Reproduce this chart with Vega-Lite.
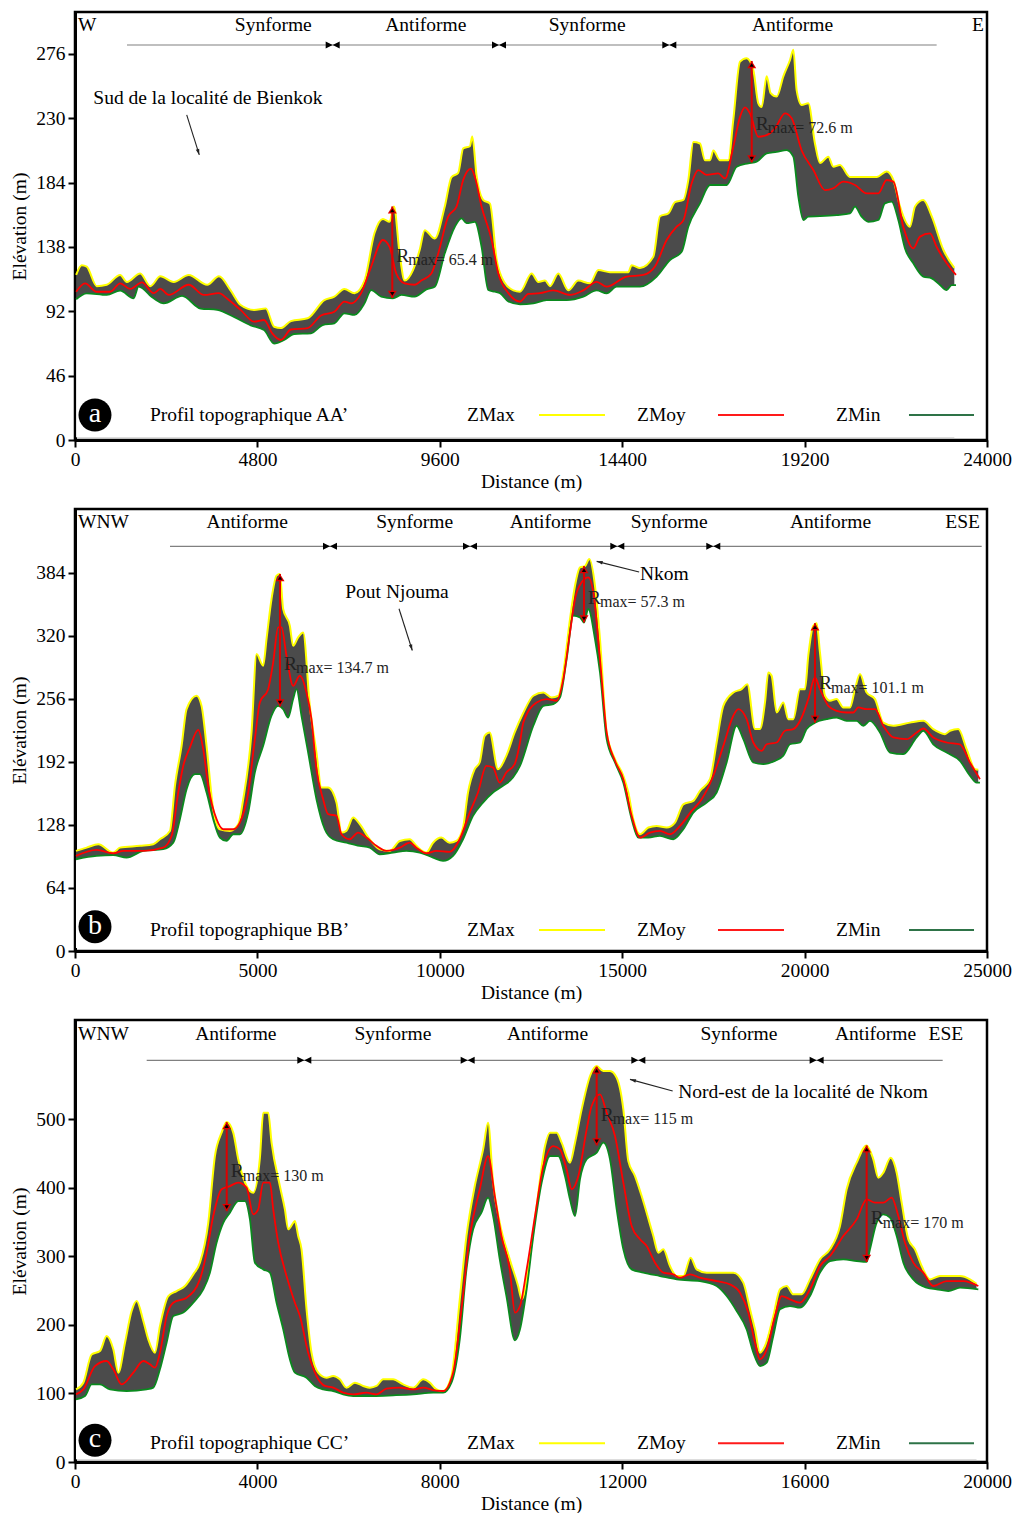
{
  "$schema": "https://vega.github.io/schema/vega-lite/v6.json",
  "background": "white",
  "padding": {"left": 8, "top": 10, "right": 5, "bottom": 0},
  "spacing": 14,
  "datasets": {
    "prof_a": [
      {"s":"max","d":30,"z":118},{"s":"max","d":176,"z":125},{"s":"max","d":308,"z":124},{"s":"max","d":572,"z":110},{"s":"max","d":837,"z":111},{"s":"max","d":1189,"z":118},{"s":"max","d":1365,"z":113},{"s":"max","d":1717,"z":119},{"s":"max","d":1982,"z":110},{"s":"max","d":2246,"z":117},{"s":"max","d":2598,"z":113},{"s":"max","d":2994,"z":118},{"s":"max","d":3479,"z":111},{"s":"max","d":3787,"z":117},{"s":"max","d":4095,"z":107},{"s":"max","d":4359,"z":96.5},{"s":"max","d":4712,"z":93},{"s":"max","d":5020,"z":94},{"s":"max","d":5240,"z":81},{"s":"max","d":5416,"z":80},{"s":"max","d":5681,"z":85},{"s":"max","d":6121,"z":87},{"s":"max","d":6561,"z":100},{"s":"max","d":6825,"z":102.5},{"s":"max","d":7089,"z":108},{"s":"max","d":7354,"z":105},{"s":"max","d":7618,"z":114},{"s":"max","d":7882,"z":148},{"s":"max","d":8102,"z":158},{"s":"max","d":8278,"z":156},{"s":"max","d":8393,"z":167},{"s":"max","d":8543,"z":133},{"s":"max","d":8675,"z":114},{"s":"max","d":8895,"z":121.5},{"s":"max","d":9071,"z":136},{"s":"max","d":9203,"z":150},{"s":"max","d":9467,"z":144},{"s":"max","d":9731,"z":167},{"s":"max","d":9908,"z":188},{"s":"max","d":10084,"z":191},{"s":"max","d":10216,"z":208.5},{"s":"max","d":10392,"z":210},{"s":"max","d":10454,"z":217},{"s":"max","d":10568,"z":189},{"s":"max","d":10744,"z":171.6},{"s":"max","d":10920,"z":169},{"s":"max","d":11096,"z":129},{"s":"max","d":11316,"z":112},{"s":"max","d":11535,"z":107},{"s":"max","d":11710,"z":106},{"s":"max","d":12017,"z":119},{"s":"max","d":12193,"z":113},{"s":"max","d":12368,"z":114},{"s":"max","d":12500,"z":110},{"s":"max","d":12719,"z":119},{"s":"max","d":12982,"z":107},{"s":"max","d":13245,"z":114},{"s":"max","d":13552,"z":112},{"s":"max","d":13771,"z":121.5},{"s":"max","d":14079,"z":120},{"s":"max","d":14561,"z":120},{"s":"max","d":14649,"z":125},{"s":"max","d":14868,"z":123},{"s":"max","d":15219,"z":131},{"s":"max","d":15395,"z":160},{"s":"max","d":15614,"z":162},{"s":"max","d":15789,"z":170},{"s":"max","d":16009,"z":171.6},{"s":"max","d":16140,"z":186},{"s":"max","d":16272,"z":213},{"s":"max","d":16447,"z":212},{"s":"max","d":16579,"z":200},{"s":"max","d":16710,"z":200},{"s":"max","d":16798,"z":207},{"s":"max","d":16973,"z":200},{"s":"max","d":17193,"z":200},{"s":"max","d":17324,"z":229},{"s":"max","d":17500,"z":270.5},{"s":"max","d":17675,"z":273},{"s":"max","d":17851,"z":264.5},{"s":"max","d":17982,"z":240.7},{"s":"max","d":18070,"z":238},{"s":"max","d":18202,"z":260},{"s":"max","d":18307,"z":248},{"s":"max","d":18465,"z":245.5},{"s":"max","d":18640,"z":260},{"s":"max","d":18816,"z":271.7},{"s":"max","d":18903,"z":279},{"s":"max","d":18991,"z":250},{"s":"max","d":19123,"z":239.5},{"s":"max","d":19298,"z":240.7},{"s":"max","d":19473,"z":212},{"s":"max","d":19605,"z":198},{"s":"max","d":19824,"z":202.6},{"s":"max","d":19956,"z":195.4},{"s":"max","d":20131,"z":196.6},{"s":"max","d":20394,"z":188},{"s":"max","d":20745,"z":188},{"s":"max","d":21096,"z":188},{"s":"max","d":21359,"z":192},{"s":"max","d":21535,"z":186},{"s":"max","d":21710,"z":167},{"s":"max","d":21973,"z":152.5},{"s":"max","d":22105,"z":167},{"s":"max","d":22324,"z":171.6},{"s":"max","d":22544,"z":160},{"s":"max","d":22851,"z":136},{"s":"max","d":23140,"z":123},
      {"s":"moy","d":30,"z":106},{"s":"moy","d":264,"z":112},{"s":"moy","d":572,"z":106},{"s":"moy","d":925,"z":106},{"s":"moy","d":1189,"z":112},{"s":"moy","d":1453,"z":108},{"s":"moy","d":1761,"z":112.7},{"s":"moy","d":2070,"z":105},{"s":"moy","d":2246,"z":108},{"s":"moy","d":2466,"z":103.7},{"s":"moy","d":2994,"z":111},{"s":"moy","d":3391,"z":103.7},{"s":"moy","d":3787,"z":105},{"s":"moy","d":4007,"z":101},{"s":"moy","d":4359,"z":93},{"s":"moy","d":4712,"z":84.6},{"s":"moy","d":4976,"z":85.8},{"s":"moy","d":5196,"z":76},{"s":"moy","d":5416,"z":71.5},{"s":"moy","d":5681,"z":79},{"s":"moy","d":6121,"z":80},{"s":"moy","d":6473,"z":89},{"s":"moy","d":6825,"z":91.7},{"s":"moy","d":7089,"z":99},{"s":"moy","d":7266,"z":97.7},{"s":"moy","d":7530,"z":105},{"s":"moy","d":7794,"z":124},{"s":"moy","d":8102,"z":143},{"s":"moy","d":8278,"z":138},{"s":"moy","d":8455,"z":119},{"s":"moy","d":8675,"z":112},{"s":"moy","d":8939,"z":111},{"s":"moy","d":9115,"z":114},{"s":"moy","d":9379,"z":119},{"s":"moy","d":9555,"z":133},{"s":"moy","d":9820,"z":159.7},{"s":"moy","d":10040,"z":166.8},{"s":"moy","d":10216,"z":186},{"s":"moy","d":10419,"z":194},{"s":"moy","d":10524,"z":188},{"s":"moy","d":10700,"z":166.8},{"s":"moy","d":10964,"z":143},{"s":"moy","d":11140,"z":119},{"s":"moy","d":11404,"z":105},{"s":"moy","d":11710,"z":99},{"s":"moy","d":11930,"z":104.4},{"s":"moy","d":12237,"z":105},{"s":"moy","d":12588,"z":107},{"s":"moy","d":13026,"z":103.7},{"s":"moy","d":13377,"z":107},{"s":"moy","d":13728,"z":113},{"s":"moy","d":13991,"z":109.6},{"s":"moy","d":14517,"z":116.8},{"s":"moy","d":14956,"z":118},{"s":"moy","d":15263,"z":124},{"s":"moy","d":15570,"z":143},{"s":"moy","d":15833,"z":152.5},{"s":"moy","d":16009,"z":157},{"s":"moy","d":16228,"z":183.5},{"s":"moy","d":16403,"z":193},{"s":"moy","d":16623,"z":189.5},{"s":"moy","d":16930,"z":190.6},{"s":"moy","d":17105,"z":187},{"s":"moy","d":17324,"z":209.7},{"s":"moy","d":17500,"z":231},{"s":"moy","d":17631,"z":237.8},{"s":"moy","d":17763,"z":233.5},{"s":"moy","d":17982,"z":216.8},{"s":"moy","d":18202,"z":218},{"s":"moy","d":18421,"z":222.8},{"s":"moy","d":18684,"z":233.5},{"s":"moy","d":18859,"z":230},{"s":"moy","d":19123,"z":207},{"s":"moy","d":19430,"z":193},{"s":"moy","d":19737,"z":178.7},{"s":"moy","d":19956,"z":180},{"s":"moy","d":20219,"z":184.7},{"s":"moy","d":20526,"z":182.3},{"s":"moy","d":20833,"z":176.3},{"s":"moy","d":21140,"z":176.3},{"s":"moy","d":21359,"z":185.9},{"s":"moy","d":21535,"z":184.7},{"s":"moy","d":21798,"z":152.5},{"s":"moy","d":22061,"z":137},{"s":"moy","d":22237,"z":145.4},{"s":"moy","d":22500,"z":147.7},{"s":"moy","d":22676,"z":138},{"s":"moy","d":22939,"z":126.3},{"s":"moy","d":23184,"z":118},
      {"s":"min","d":30,"z":100.6},{"s":"min","d":308,"z":104.9},{"s":"min","d":837,"z":103.7},{"s":"min","d":1189,"z":106.8},{"s":"min","d":1541,"z":101.3},{"s":"min","d":1673,"z":109.6},{"s":"min","d":2070,"z":101.3},{"s":"min","d":2334,"z":97.7},{"s":"min","d":2818,"z":103},{"s":"min","d":3303,"z":94},{"s":"min","d":3743,"z":93},{"s":"min","d":4183,"z":88},{"s":"min","d":4624,"z":82},{"s":"min","d":4976,"z":78.6},{"s":"min","d":5240,"z":69},{"s":"min","d":5504,"z":71.5},{"s":"min","d":5769,"z":75.8},{"s":"min","d":6209,"z":76.3},{"s":"min","d":6517,"z":82.2},{"s":"min","d":6825,"z":83.4},{"s":"min","d":7089,"z":90.6},{"s":"min","d":7354,"z":89.4},{"s":"min","d":7618,"z":97.7},{"s":"min","d":7794,"z":107.2},{"s":"min","d":8058,"z":102.5},{"s":"min","d":8367,"z":101.3},{"s":"min","d":8587,"z":103.7},{"s":"min","d":8939,"z":102.5},{"s":"min","d":9247,"z":107.7},{"s":"min","d":9467,"z":109.6},{"s":"min","d":9731,"z":133.5},{"s":"min","d":9996,"z":152.5},{"s":"min","d":10172,"z":158.5},{"s":"min","d":10304,"z":155},{"s":"min","d":10524,"z":156},{"s":"min","d":10700,"z":138},{"s":"min","d":10876,"z":107.2},{"s":"min","d":11052,"z":106},{"s":"min","d":11184,"z":105},{"s":"min","d":11404,"z":99},{"s":"min","d":11712,"z":97},{"s":"min","d":12061,"z":97.7},{"s":"min","d":12412,"z":100},{"s":"min","d":12938,"z":100},{"s":"min","d":13377,"z":102.5},{"s":"min","d":13728,"z":107},{"s":"min","d":13991,"z":104.9},{"s":"min","d":14254,"z":109.6},{"s":"min","d":14868,"z":109.6},{"s":"min","d":15307,"z":116.8},{"s":"min","d":15658,"z":128.7},{"s":"min","d":15965,"z":134.6},{"s":"min","d":16140,"z":152.5},{"s":"min","d":16447,"z":169.2},{"s":"min","d":16710,"z":182.3},{"s":"min","d":17149,"z":182.3},{"s":"min","d":17412,"z":195.4},{"s":"min","d":17719,"z":197.8},{"s":"min","d":17938,"z":199},{"s":"min","d":18202,"z":205},{"s":"min","d":18465,"z":206},{"s":"min","d":18728,"z":207.3},{"s":"min","d":18903,"z":202.6},{"s":"min","d":19035,"z":174},{"s":"min","d":19167,"z":157.3},{"s":"min","d":19298,"z":159.7},{"s":"min","d":19605,"z":160},{"s":"min","d":20043,"z":160.8},{"s":"min","d":20394,"z":162},{"s":"min","d":20526,"z":166.8},{"s":"min","d":20701,"z":159.7},{"s":"min","d":20877,"z":156},{"s":"min","d":21140,"z":157.3},{"s":"min","d":21315,"z":169.2},{"s":"min","d":21491,"z":170.4},{"s":"min","d":21666,"z":157.3},{"s":"min","d":21842,"z":137},{"s":"min","d":22061,"z":126.3},{"s":"min","d":22324,"z":116.8},{"s":"min","d":22544,"z":115.6},{"s":"min","d":22763,"z":110.8},{"s":"min","d":22939,"z":107.2},{"s":"min","d":23070,"z":110.8},{"s":"min","d":23184,"z":110.8}
    ],
    "prof_b": [
      {"s":"max","d":27,"z":101.7},{"s":"max","d":320,"z":105},{"s":"max","d":639,"z":108.4},{"s":"max","d":1050,"z":100},{"s":"max","d":1233,"z":105},{"s":"max","d":1780,"z":106.8},{"s":"max","d":2146,"z":108.4},{"s":"max","d":2328,"z":113.5},{"s":"max","d":2602,"z":122},{"s":"max","d":2739,"z":167.8},{"s":"max","d":2922,"z":208.4},{"s":"max","d":3059,"z":245.7},{"s":"max","d":3332,"z":259.3},{"s":"max","d":3469,"z":249},{"s":"max","d":3606,"z":208.4},{"s":"max","d":3789,"z":144},{"s":"max","d":3971,"z":123.7},{"s":"max","d":4245,"z":122},{"s":"max","d":4474,"z":128.8},{"s":"max","d":4611,"z":154.2},{"s":"max","d":4839,"z":222},{"s":"max","d":4976,"z":301.6},{"s":"max","d":5158,"z":289.8},{"s":"max","d":5250,"z":316.9},{"s":"max","d":5387,"z":357.5},{"s":"max","d":5524,"z":381.3},{"s":"max","d":5615,"z":383},{"s":"max","d":5706,"z":347.4},{"s":"max","d":5889,"z":330.4},{"s":"max","d":5980,"z":310},{"s":"max","d":6117,"z":318.6},{"s":"max","d":6254,"z":323.6},{"s":"max","d":6437,"z":249},{"s":"max","d":6619,"z":201.6},{"s":"max","d":6756,"z":166},{"s":"max","d":6939,"z":166},{"s":"max","d":7167,"z":150.8},{"s":"max","d":7304,"z":120.3},{"s":"max","d":7441,"z":122},{"s":"max","d":7624,"z":135.6},{"s":"max","d":7806,"z":128.8},{"s":"max","d":8080,"z":113.5},{"s":"max","d":8354,"z":103.4},{"s":"max","d":8628,"z":101.7},{"s":"max","d":8902,"z":111.8},{"s":"max","d":9176,"z":113.5},{"s":"max","d":9358,"z":106.8},{"s":"max","d":9632,"z":100},{"s":"max","d":9815,"z":110},{"s":"max","d":10043,"z":115.2},{"s":"max","d":10271,"z":110},{"s":"max","d":10454,"z":111.8},{"s":"max","d":10637,"z":125.4},{"s":"max","d":10773,"z":161},{"s":"max","d":10956,"z":184.7},{"s":"max","d":11093,"z":191.5},{"s":"max","d":11230,"z":218.6},{"s":"max","d":11367,"z":222},{"s":"max","d":11595,"z":184.7},{"s":"max","d":11823,"z":198.3},{"s":"max","d":12052,"z":222},{"s":"max","d":12290,"z":242},{"s":"max","d":12564,"z":259.3},{"s":"max","d":12838,"z":262.6},{"s":"max","d":13066,"z":257.6},{"s":"max","d":13249,"z":259.3},{"s":"max","d":13386,"z":283},{"s":"max","d":13569,"z":337.2},{"s":"max","d":13706,"z":371},{"s":"max","d":13843,"z":389.7},{"s":"max","d":13980,"z":391},{"s":"max","d":14099,"z":398.2},{"s":"max","d":14254,"z":371},{"s":"max","d":14391,"z":316.9},{"s":"max","d":14574,"z":222},{"s":"max","d":14802,"z":194.9},{"s":"max","d":15031,"z":178},{"s":"max","d":15168,"z":161},{"s":"max","d":15305,"z":133.9},{"s":"max","d":15488,"z":118.6},{"s":"max","d":15716,"z":125.4},{"s":"max","d":15945,"z":127},{"s":"max","d":16219,"z":125.4},{"s":"max","d":16447,"z":130.5},{"s":"max","d":16675,"z":149},{"s":"max","d":16950,"z":152.5},{"s":"max","d":17132,"z":162.7},{"s":"max","d":17406,"z":174.5},{"s":"max","d":17589,"z":211.8},{"s":"max","d":17772,"z":249},{"s":"max","d":18046,"z":262.6},{"s":"max","d":18274,"z":266},{"s":"max","d":18430,"z":271},{"s":"max","d":18640,"z":225.4},{"s":"max","d":18777,"z":225.4},{"s":"max","d":18914,"z":252.5},{"s":"max","d":19005,"z":283},{"s":"max","d":19097,"z":279.6},{"s":"max","d":19234,"z":242.3},{"s":"max","d":19417,"z":252.5},{"s":"max","d":19553,"z":235.5},{"s":"max","d":19690,"z":235.5},{"s":"max","d":19873,"z":266},{"s":"max","d":20010,"z":266},{"s":"max","d":20101,"z":300},{"s":"max","d":20238,"z":330.4},{"s":"max","d":20330,"z":333},{"s":"max","d":20421,"z":303.3},{"s":"max","d":20558,"z":259.3},{"s":"max","d":20695,"z":254.2},{"s":"max","d":20878,"z":255.9},{"s":"max","d":21061,"z":247.4},{"s":"max","d":21244,"z":247.4},{"s":"max","d":21381,"z":266},{"s":"max","d":21518,"z":281.3},{"s":"max","d":21700,"z":262.6},{"s":"max","d":21929,"z":255.9},{"s":"max","d":22157,"z":232},{"s":"max","d":22432,"z":228.8},{"s":"max","d":22888,"z":232},{"s":"max","d":23254,"z":233.8},{"s":"max","d":23528,"z":225.4},{"s":"max","d":23848,"z":220.3},{"s":"max","d":23985,"z":223.7},{"s":"max","d":24213,"z":225.4},{"s":"max","d":24442,"z":205},{"s":"max","d":24670,"z":184.7},{"s":"max","d":24760,"z":184},
      {"s":"moy","d":27,"z":96.6},{"s":"moy","d":593,"z":102.7},{"s":"moy","d":1050,"z":99.3},{"s":"moy","d":1324,"z":101.7},{"s":"moy","d":1872,"z":101.7},{"s":"moy","d":2419,"z":105},{"s":"moy","d":2648,"z":117},{"s":"moy","d":2830,"z":161},{"s":"moy","d":2967,"z":188},{"s":"moy","d":3150,"z":206.7},{"s":"moy","d":3378,"z":224.7},{"s":"moy","d":3515,"z":205},{"s":"moy","d":3652,"z":167.8},{"s":"moy","d":3880,"z":133.9},{"s":"moy","d":4063,"z":123.7},{"s":"moy","d":4337,"z":123.7},{"s":"moy","d":4519,"z":130.5},{"s":"moy","d":4748,"z":161},{"s":"moy","d":4930,"z":215.2},{"s":"moy","d":5067,"z":252.5},{"s":"moy","d":5295,"z":266},{"s":"moy","d":5432,"z":293},{"s":"moy","d":5569,"z":328.7},{"s":"moy","d":5661,"z":328.7},{"s":"moy","d":5798,"z":300},{"s":"moy","d":5980,"z":269.4},{"s":"moy","d":6163,"z":279.6},{"s":"moy","d":6345,"z":262.6},{"s":"moy","d":6482,"z":235.5},{"s":"moy","d":6619,"z":184.7},{"s":"moy","d":6802,"z":154.2},{"s":"moy","d":6939,"z":139},{"s":"moy","d":7167,"z":137.3},{"s":"moy","d":7304,"z":118.6},{"s":"moy","d":7532,"z":113.5},{"s":"moy","d":7760,"z":120.3},{"s":"moy","d":7989,"z":115.2},{"s":"moy","d":8263,"z":106.8},{"s":"moy","d":8537,"z":101.7},{"s":"moy","d":8902,"z":105},{"s":"moy","d":9176,"z":110},{"s":"moy","d":9358,"z":105},{"s":"moy","d":9632,"z":99.3},{"s":"moy","d":9906,"z":101.7},{"s":"moy","d":10271,"z":100.7},{"s":"moy","d":10545,"z":113.5},{"s":"moy","d":10819,"z":140.6},{"s":"moy","d":11047,"z":161},{"s":"moy","d":11275,"z":188},{"s":"moy","d":11458,"z":186.4},{"s":"moy","d":11640,"z":171},{"s":"moy","d":11823,"z":181.3},{"s":"moy","d":12052,"z":189.8},{"s":"moy","d":12189,"z":210},{"s":"moy","d":12290,"z":232},{"s":"moy","d":12655,"z":252.5},{"s":"moy","d":12929,"z":255.9},{"s":"moy","d":13203,"z":254.2},{"s":"moy","d":13386,"z":276.2},{"s":"moy","d":13569,"z":323.6},{"s":"moy","d":13706,"z":357.5},{"s":"moy","d":13889,"z":374.5},{"s":"moy","d":14071,"z":379.6},{"s":"moy","d":14208,"z":364.3},{"s":"moy","d":14391,"z":296.5},{"s":"moy","d":14574,"z":222},{"s":"moy","d":14802,"z":193.2},{"s":"moy","d":15031,"z":174.5},{"s":"moy","d":15259,"z":137.3},{"s":"moy","d":15488,"z":115.2},{"s":"moy","d":15762,"z":120.3},{"s":"moy","d":16036,"z":122},{"s":"moy","d":16310,"z":118.6},{"s":"moy","d":16584,"z":127},{"s":"moy","d":16904,"z":142.3},{"s":"moy","d":17178,"z":154.2},{"s":"moy","d":17498,"z":178},{"s":"moy","d":17772,"z":208.4},{"s":"moy","d":18046,"z":239},{"s":"moy","d":18183,"z":245.7},{"s":"moy","d":18411,"z":235.5},{"s":"moy","d":18594,"z":211.8},{"s":"moy","d":18823,"z":203.3},{"s":"moy","d":18960,"z":210},{"s":"moy","d":19234,"z":211.8},{"s":"moy","d":19462,"z":223.7},{"s":"moy","d":19690,"z":225.4},{"s":"moy","d":19919,"z":237.2},{"s":"moy","d":20101,"z":255.9},{"s":"moy","d":20284,"z":277.9},{"s":"moy","d":20421,"z":266},{"s":"moy","d":20650,"z":249},{"s":"moy","d":20878,"z":244},{"s":"moy","d":21152,"z":242.3},{"s":"moy","d":21335,"z":242.3},{"s":"moy","d":21472,"z":247.4},{"s":"moy","d":21700,"z":245.7},{"s":"moy","d":21929,"z":245.7},{"s":"moy","d":22157,"z":228.8},{"s":"moy","d":22432,"z":216.9},{"s":"moy","d":22797,"z":215.2},{"s":"moy","d":23071,"z":222},{"s":"moy","d":23254,"z":226},{"s":"moy","d":23528,"z":216.9},{"s":"moy","d":23893,"z":211.8},{"s":"moy","d":24258,"z":210},{"s":"moy","d":24533,"z":191.5},{"s":"moy","d":24807,"z":174.5},
      {"s":"min","d":27,"z":93.2},{"s":"min","d":593,"z":96.6},{"s":"min","d":1050,"z":97.3},{"s":"min","d":1415,"z":94.9},{"s":"min","d":1872,"z":101.7},{"s":"min","d":2419,"z":103.4},{"s":"min","d":2693,"z":110},{"s":"min","d":2876,"z":133.9},{"s":"min","d":3059,"z":164.4},{"s":"min","d":3287,"z":179.6},{"s":"min","d":3424,"z":179.6},{"s":"min","d":3606,"z":161},{"s":"min","d":3789,"z":133.9},{"s":"min","d":3971,"z":115.2},{"s":"min","d":4154,"z":111.8},{"s":"min","d":4337,"z":118.6},{"s":"min","d":4519,"z":118.6},{"s":"min","d":4748,"z":140.6},{"s":"min","d":4930,"z":181.3},{"s":"min","d":5158,"z":208.4},{"s":"min","d":5387,"z":239},{"s":"min","d":5569,"z":249},{"s":"min","d":5706,"z":245.7},{"s":"min","d":5843,"z":237.2},{"s":"min","d":5980,"z":255.9},{"s":"min","d":6072,"z":266},{"s":"min","d":6208,"z":239},{"s":"min","d":6391,"z":201.6},{"s":"min","d":6619,"z":154.2},{"s":"min","d":6847,"z":123.7},{"s":"min","d":7076,"z":113.5},{"s":"min","d":7441,"z":110},{"s":"min","d":7806,"z":106.8},{"s":"min","d":8080,"z":105},{"s":"min","d":8354,"z":98.3},{"s":"min","d":8719,"z":100},{"s":"min","d":9084,"z":101.7},{"s":"min","d":9449,"z":100},{"s":"min","d":9815,"z":94.9},{"s":"min","d":10089,"z":91.5},{"s":"min","d":10363,"z":96.6},{"s":"min","d":10637,"z":113.5},{"s":"min","d":10910,"z":137.3},{"s":"min","d":11184,"z":150.8},{"s":"min","d":11458,"z":161},{"s":"min","d":11732,"z":167.8},{"s":"min","d":12006,"z":176.2},{"s":"min","d":12198,"z":188},{"s":"min","d":12564,"z":228.8},{"s":"min","d":12838,"z":249},{"s":"min","d":13112,"z":250.8},{"s":"min","d":13295,"z":257.6},{"s":"min","d":13477,"z":296.5},{"s":"min","d":13660,"z":340.6},{"s":"min","d":13843,"z":338.9},{"s":"min","d":13953,"z":333.7},{"s":"min","d":14071,"z":347.4},{"s":"min","d":14254,"z":316.9},{"s":"min","d":14391,"z":283},{"s":"min","d":14574,"z":215.2},{"s":"min","d":14802,"z":191.5},{"s":"min","d":15031,"z":171},{"s":"min","d":15259,"z":133.9},{"s":"min","d":15442,"z":115.2},{"s":"min","d":15716,"z":115.2},{"s":"min","d":16036,"z":117},{"s":"min","d":16401,"z":113.5},{"s":"min","d":16675,"z":123.7},{"s":"min","d":16950,"z":140.6},{"s":"min","d":17315,"z":150.8},{"s":"min","d":17589,"z":161},{"s":"min","d":17863,"z":191.5},{"s":"min","d":18137,"z":228.8},{"s":"min","d":18320,"z":215.2},{"s":"min","d":18594,"z":191.5},{"s":"min","d":18868,"z":189.8},{"s":"min","d":19188,"z":193.2},{"s":"min","d":19417,"z":198.3},{"s":"min","d":19599,"z":210},{"s":"min","d":19873,"z":211.8},{"s":"min","d":20056,"z":225.4},{"s":"min","d":20284,"z":231.9},{"s":"min","d":20604,"z":235.5},{"s":"min","d":20878,"z":237.2},{"s":"min","d":21152,"z":233.8},{"s":"min","d":21426,"z":233.8},{"s":"min","d":21609,"z":228.8},{"s":"min","d":21792,"z":233.8},{"s":"min","d":22066,"z":222},{"s":"min","d":22340,"z":201.6},{"s":"min","d":22706,"z":200},{"s":"min","d":23071,"z":216.9},{"s":"min","d":23254,"z":223.7},{"s":"min","d":23528,"z":210},{"s":"min","d":23893,"z":201.6},{"s":"min","d":24258,"z":193.2},{"s":"min","d":24533,"z":178},{"s":"min","d":24716,"z":171},{"s":"min","d":24807,"z":171}
    ],
    "prof_c": [
      {"s":"max","d":22,"z":106},{"s":"max","d":183,"z":115.8},{"s":"max","d":365,"z":157},{"s":"max","d":548,"z":162},{"s":"max","d":694,"z":183.9},{"s":"max","d":840,"z":164.4},{"s":"max","d":950,"z":130.4},{"s":"max","d":1096,"z":174},{"s":"max","d":1242,"z":220.3},{"s":"max","d":1352,"z":235},{"s":"max","d":1498,"z":205.7},{"s":"max","d":1607,"z":179},{"s":"max","d":1753,"z":159.5},{"s":"max","d":1863,"z":198.5},{"s":"max","d":2046,"z":242.2},{"s":"max","d":2228,"z":249.5},{"s":"max","d":2411,"z":256.8},{"s":"max","d":2594,"z":273.8},{"s":"max","d":2740,"z":290.9},{"s":"max","d":2922,"z":349},{"s":"max","d":3068,"z":446.5},{"s":"max","d":3215,"z":480.6},{"s":"max","d":3327,"z":496},{"s":"max","d":3470,"z":480.6},{"s":"max","d":3580,"z":441.7},{"s":"max","d":3763,"z":402.7},{"s":"max","d":3909,"z":393},{"s":"max","d":4055,"z":444},{"s":"max","d":4128,"z":509.7},{"s":"max","d":4237,"z":509.7},{"s":"max","d":4311,"z":466},{"s":"max","d":4493,"z":402.7},{"s":"max","d":4603,"z":368.7},{"s":"max","d":4676,"z":339.5},{"s":"max","d":4785,"z":349},{"s":"max","d":4822,"z":351.7},{"s":"max","d":4895,"z":329.8},{"s":"max","d":4968,"z":310.3},{"s":"max","d":5078,"z":222.8},{"s":"max","d":5187,"z":159.5},{"s":"max","d":5333,"z":130.4},{"s":"max","d":5516,"z":123},{"s":"max","d":5662,"z":125.5},{"s":"max","d":5808,"z":120.6},{"s":"max","d":5954,"z":108.5},{"s":"max","d":6137,"z":115.8},{"s":"max","d":6320,"z":111},{"s":"max","d":6466,"z":108.5},{"s":"max","d":6612,"z":111},{"s":"max","d":6758,"z":120.6},{"s":"max","d":6977,"z":120.6},{"s":"max","d":7196,"z":113.3},{"s":"max","d":7416,"z":108.5},{"s":"max","d":7635,"z":120.6},{"s":"max","d":7781,"z":115.8},{"s":"max","d":7927,"z":106},{"s":"max","d":8073,"z":103.6},{"s":"max","d":8256,"z":125.5},{"s":"max","d":8438,"z":237.4},{"s":"max","d":8585,"z":329.8},{"s":"max","d":8767,"z":402.7},{"s":"max","d":8950,"z":456.2},{"s":"max","d":9059,"z":495},{"s":"max","d":9169,"z":407.6},{"s":"max","d":9315,"z":349},{"s":"max","d":9534,"z":295.7},{"s":"max","d":9717,"z":256.8},{"s":"max","d":9795,"z":237.4},{"s":"max","d":9978,"z":300.6},{"s":"max","d":10124,"z":373.6},{"s":"max","d":10307,"z":461},{"s":"max","d":10417,"z":480.6},{"s":"max","d":10563,"z":480.6},{"s":"max","d":10672,"z":466},{"s":"max","d":10855,"z":436.8},{"s":"max","d":10965,"z":466},{"s":"max","d":11111,"z":514.6},{"s":"max","d":11294,"z":563.3},{"s":"max","d":11440,"z":577.8},{"s":"max","d":11586,"z":570.5},{"s":"max","d":11732,"z":570.5},{"s":"max","d":11879,"z":560.8},{"s":"max","d":12025,"z":514.6},{"s":"max","d":12134,"z":439.2},{"s":"max","d":12281,"z":417.3},{"s":"max","d":12427,"z":388.1},{"s":"max","d":12536,"z":363.8},{"s":"max","d":12683,"z":329.8},{"s":"max","d":12792,"z":305.5},{"s":"max","d":12902,"z":310.3},{"s":"max","d":13048,"z":286},{"s":"max","d":13194,"z":271.4},{"s":"max","d":13341,"z":271.4},{"s":"max","d":13501,"z":298.2},{"s":"max","d":13633,"z":281.1},{"s":"max","d":13852,"z":276.3},{"s":"max","d":14145,"z":276.3},{"s":"max","d":14437,"z":276.3},{"s":"max","d":14656,"z":261.7},{"s":"max","d":14803,"z":222.8},{"s":"max","d":14912,"z":193.6},{"s":"max","d":15022,"z":159.5},{"s":"max","d":15131,"z":169.3},{"s":"max","d":15314,"z":213},{"s":"max","d":15460,"z":252},{"s":"max","d":15607,"z":256.8},{"s":"max","d":15753,"z":244.7},{"s":"max","d":15936,"z":244.7},{"s":"max","d":16118,"z":266.5},{"s":"max","d":16338,"z":295.7},{"s":"max","d":16557,"z":310.3},{"s":"max","d":16776,"z":344.4},{"s":"max","d":16922,"z":397.9},{"s":"max","d":17142,"z":436.8},{"s":"max","d":17361,"z":462},{"s":"max","d":17507,"z":441.7},{"s":"max","d":17617,"z":414.9},{"s":"max","d":17727,"z":422.2},{"s":"max","d":17887,"z":444},{"s":"max","d":18019,"z":422.2},{"s":"max","d":18129,"z":378.4},{"s":"max","d":18275,"z":324.9},{"s":"max","d":18421,"z":310.3},{"s":"max","d":18567,"z":286},{"s":"max","d":18750,"z":266.5},{"s":"max","d":18969,"z":271.4},{"s":"max","d":19189,"z":271.4},{"s":"max","d":19408,"z":271.4},{"s":"max","d":19627,"z":266.5},{"s":"max","d":19770,"z":260},
      {"s":"moy","d":22,"z":98.7},{"s":"moy","d":183,"z":106},{"s":"moy","d":438,"z":140},{"s":"moy","d":694,"z":147.4},{"s":"moy","d":840,"z":135.2},{"s":"moy","d":1023,"z":113.3},{"s":"moy","d":1279,"z":130.4},{"s":"moy","d":1498,"z":147.4},{"s":"moy","d":1644,"z":142.5},{"s":"moy","d":1753,"z":137.6},{"s":"moy","d":1863,"z":159.5},{"s":"moy","d":2009,"z":213},{"s":"moy","d":2155,"z":232.5},{"s":"moy","d":2448,"z":239.8},{"s":"moy","d":2740,"z":266.5},{"s":"moy","d":2886,"z":305.5},{"s":"moy","d":3032,"z":359},{"s":"moy","d":3215,"z":398},{"s":"moy","d":3397,"z":402.7},{"s":"moy","d":3580,"z":407.6},{"s":"moy","d":3763,"z":400.3},{"s":"moy","d":3909,"z":361.4},{"s":"moy","d":4018,"z":368.7},{"s":"moy","d":4128,"z":407.6},{"s":"moy","d":4274,"z":407.6},{"s":"moy","d":4347,"z":368.7},{"s":"moy","d":4457,"z":320},{"s":"moy","d":4639,"z":271.4},{"s":"moy","d":4822,"z":232.5},{"s":"moy","d":4932,"z":213},{"s":"moy","d":5114,"z":159.5},{"s":"moy","d":5297,"z":125.5},{"s":"moy","d":5480,"z":111},{"s":"moy","d":5662,"z":108.5},{"s":"moy","d":5881,"z":101.2},{"s":"moy","d":6101,"z":98.7},{"s":"moy","d":6393,"z":101.2},{"s":"moy","d":6612,"z":98.7},{"s":"moy","d":6831,"z":107},{"s":"moy","d":7123,"z":108.5},{"s":"moy","d":7416,"z":106},{"s":"moy","d":7635,"z":108.5},{"s":"moy","d":7854,"z":105},{"s":"moy","d":8073,"z":103.6},{"s":"moy","d":8292,"z":130.4},{"s":"moy","d":8475,"z":222.8},{"s":"moy","d":8658,"z":329.8},{"s":"moy","d":8877,"z":398},{"s":"moy","d":9059,"z":446.5},{"s":"moy","d":9206,"z":388.1},{"s":"moy","d":9352,"z":329.8},{"s":"moy","d":9534,"z":281.1},{"s":"moy","d":9649,"z":218},{"s":"moy","d":9759,"z":227.6},{"s":"moy","d":9905,"z":281},{"s":"moy","d":10088,"z":359},{"s":"moy","d":10270,"z":432},{"s":"moy","d":10490,"z":461},{"s":"moy","d":10636,"z":456.2},{"s":"moy","d":10782,"z":427},{"s":"moy","d":10892,"z":398},{"s":"moy","d":11038,"z":417.3},{"s":"moy","d":11221,"z":485.4},{"s":"moy","d":11330,"z":519.5},{"s":"moy","d":11513,"z":536.5},{"s":"moy","d":11659,"z":509.7},{"s":"moy","d":11842,"z":475.7},{"s":"moy","d":12025,"z":407.6},{"s":"moy","d":12207,"z":344.4},{"s":"moy","d":12390,"z":325},{"s":"moy","d":12536,"z":315.2},{"s":"moy","d":12719,"z":290.9},{"s":"moy","d":12902,"z":276.3},{"s":"moy","d":13121,"z":273.8},{"s":"moy","d":13267,"z":269},{"s":"moy","d":13487,"z":273.8},{"s":"moy","d":13706,"z":269},{"s":"moy","d":14072,"z":264},{"s":"moy","d":14364,"z":259.2},{"s":"moy","d":14583,"z":247},{"s":"moy","d":14766,"z":218},{"s":"moy","d":14912,"z":174},{"s":"moy","d":15022,"z":149.8},{"s":"moy","d":15168,"z":164.4},{"s":"moy","d":15351,"z":213},{"s":"moy","d":15497,"z":242.2},{"s":"moy","d":15680,"z":237.4},{"s":"moy","d":15899,"z":232.5},{"s":"moy","d":16118,"z":252},{"s":"moy","d":16338,"z":286},{"s":"moy","d":16557,"z":300.6},{"s":"moy","d":16849,"z":329.8},{"s":"moy","d":17142,"z":354},{"s":"moy","d":17361,"z":383.3},{"s":"moy","d":17544,"z":378.4},{"s":"moy","d":17727,"z":378.4},{"s":"moy","d":17909,"z":385.7},{"s":"moy","d":18055,"z":359},{"s":"moy","d":18202,"z":320},{"s":"moy","d":18384,"z":290.9},{"s":"moy","d":18603,"z":276.3},{"s":"moy","d":18823,"z":256.8},{"s":"moy","d":19115,"z":264},{"s":"moy","d":19481,"z":264},{"s":"moy","d":19810,"z":256.8},
      {"s":"min","d":22,"z":91.4},{"s":"min","d":219,"z":96.3},{"s":"min","d":365,"z":113.3},{"s":"min","d":548,"z":113.3},{"s":"min","d":767,"z":106},{"s":"min","d":1132,"z":103.6},{"s":"min","d":1571,"z":106},{"s":"min","d":1717,"z":108.5},{"s":"min","d":1863,"z":135.2},{"s":"min","d":2009,"z":174},{"s":"min","d":2155,"z":213},{"s":"min","d":2374,"z":218},{"s":"min","d":2594,"z":232.5},{"s":"min","d":2813,"z":252},{"s":"min","d":2959,"z":276.3},{"s":"min","d":3105,"z":320},{"s":"min","d":3251,"z":349},{"s":"min","d":3397,"z":363.8},{"s":"min","d":3580,"z":380.8},{"s":"min","d":3726,"z":380.8},{"s":"min","d":3836,"z":354},{"s":"min","d":3945,"z":290.9},{"s":"min","d":4128,"z":281.1},{"s":"min","d":4274,"z":276.3},{"s":"min","d":4420,"z":232.5},{"s":"min","d":4566,"z":193.6},{"s":"min","d":4712,"z":149.8},{"s":"min","d":4822,"z":130.4},{"s":"min","d":5078,"z":123},{"s":"min","d":5260,"z":111},{"s":"min","d":5443,"z":106},{"s":"min","d":5662,"z":103.6},{"s":"min","d":5881,"z":98.7},{"s":"min","d":6101,"z":96.3},{"s":"min","d":6539,"z":96.3},{"s":"min","d":6977,"z":97.3},{"s":"min","d":7416,"z":98.7},{"s":"min","d":7854,"z":101.2},{"s":"min","d":8073,"z":101.2},{"s":"min","d":8256,"z":115.8},{"s":"min","d":8438,"z":179},{"s":"min","d":8585,"z":281.1},{"s":"min","d":8731,"z":339.5},{"s":"min","d":8913,"z":363.8},{"s":"min","d":9059,"z":385.7},{"s":"min","d":9169,"z":359},{"s":"min","d":9315,"z":295.7},{"s":"min","d":9461,"z":242.2},{"s":"min","d":9649,"z":177.5},{"s":"min","d":9759,"z":193.6},{"s":"min","d":9905,"z":252},{"s":"min","d":10051,"z":329.8},{"s":"min","d":10234,"z":407.6},{"s":"min","d":10417,"z":446.5},{"s":"min","d":10600,"z":446.5},{"s":"min","d":10745,"z":417.3},{"s":"min","d":10855,"z":383.3},{"s":"min","d":10965,"z":359},{"s":"min","d":11074,"z":412.5},{"s":"min","d":11221,"z":441.7},{"s":"min","d":11440,"z":451.4},{"s":"min","d":11586,"z":466},{"s":"min","d":11732,"z":441.7},{"s":"min","d":11879,"z":368.7},{"s":"min","d":12025,"z":310.3},{"s":"min","d":12207,"z":281.1},{"s":"min","d":12463,"z":276.3},{"s":"min","d":12829,"z":271.4},{"s":"min","d":13194,"z":266.5},{"s":"min","d":13706,"z":264},{"s":"min","d":14072,"z":256.8},{"s":"min","d":14291,"z":242.2},{"s":"min","d":14510,"z":220.3},{"s":"min","d":14729,"z":193.6},{"s":"min","d":14876,"z":159.5},{"s":"min","d":15022,"z":140},{"s":"min","d":15168,"z":145},{"s":"min","d":15314,"z":183.9},{"s":"min","d":15460,"z":222.8},{"s":"min","d":15680,"z":227.6},{"s":"min","d":15899,"z":225.2},{"s":"min","d":16118,"z":242.2},{"s":"min","d":16338,"z":276.3},{"s":"min","d":16557,"z":293.3},{"s":"min","d":16849,"z":295.7},{"s":"min","d":17142,"z":293.3},{"s":"min","d":17361,"z":292},{"s":"min","d":17434,"z":310.3},{"s":"min","d":17580,"z":349.2},{"s":"min","d":17727,"z":361.4},{"s":"min","d":17873,"z":356.5},{"s":"min","d":18019,"z":329.8},{"s":"min","d":18166,"z":290.9},{"s":"min","d":18384,"z":266.5},{"s":"min","d":18677,"z":254.4},{"s":"min","d":18896,"z":252},{"s":"min","d":19152,"z":249.5},{"s":"min","d":19408,"z":254.4},{"s":"min","d":19810,"z":252}
    ],
    "rmax_a": [
      {"d":8350,"z":101.6,"z2":167,"lz":131.6,"sub":"max= 65.4 m"},
      {"d":17808,"z":198.4,"z2":271,"lz":226,"sub":"max= 72.6 m"}
    ],
    "rmax_b": [
      {"d":5620,"z":248.3,"z2":383,"lz":292,"sub":"max= 134.7 m"},
      {"d":13953,"z":333.7,"z2":391,"lz":359,"sub":"max= 57.3 m"},
      {"d":20285,"z":231.9,"z2":333,"lz":272,"sub":"max= 101.1 m"}
    ],
    "rmax_c": [
      {"d":3327,"z":366,"z2":496,"lz":424,"sub":"max= 130 m"},
      {"d":11440,"z":462,"z2":577,"lz":507,"sub":"max= 115 m"},
      {"d":17361,"z":292,"z2":462,"lz":356,"sub":"max= 170 m"}
    ],
    "txt_a": [
      {"label":"W","d":79,"z":296.7},
      {"label":"Sud de la localité de Bienkok","d":482,"z":244.3},
      {"label":"Profil topographique AA’","d":1974,"z":17.9},
      {"label":"ZMax","d":10316,"z":17.9},
      {"label":"ZMoy","d":14789,"z":17.9},
      {"label":"ZMin","d":20026,"z":17.9}
    ],
    "ctr_a": [
      {"label":"Synforme","d":5218,"z":296.7},
      {"label":"Antiforme","d":9232,"z":296.7},
      {"label":"Synforme","d":13478,"z":296.7},
      {"label":"Antiforme","d":18882,"z":296.7}
    ],
    "end_a": [{"label":"E","d":23921,"z":296.7}],
    "tie_a": [{"d":6781,"z":282.4},{"d":11158,"z":282.4},{"d":15640,"z":282.4}],
    "seg_a": [
      {"k":"fold","d":1368,"z":282.4,"d2":22675,"z2":282.4},
      {"k":"ptr","note":"Bienkok","d":2939,"z":232.4,"d2":3271,"z2":203.8},
      {"k":"max","d":12211,"z":17.9,"d2":13947,"z2":17.9},
      {"k":"moy","d":16921,"z":17.9,"d2":18658,"z2":17.9},
      {"k":"min","d":21947,"z":17.9,"d2":23658,"z2":17.9}
    ],
    "tag_a": [{"label":"a","d":526,"z":17.9}],
    "txt_b": [
      {"label":"WNW","d":82,"z":435.8},
      {"label":"Nkom","d":15488,"z":382.5},
      {"label":"Profil topographique BB’","d":2056,"z":21.4},
      {"label":"ZMax","d":10746,"z":21.4},
      {"label":"ZMoy","d":15406,"z":21.4},
      {"label":"ZMin","d":20861,"z":21.4}
    ],
    "ctr_b": [
      {"label":"Antiforme","d":4720,"z":435.8},
      {"label":"Synforme","d":9312,"z":435.8},
      {"label":"Antiforme","d":13034,"z":435.8},
      {"label":"Synforme","d":16288,"z":435.8},
      {"label":"Antiforme","d":20710,"z":435.8},
      {"label":"Pout Njouma","d":8827,"z":364.7}
    ],
    "end_b": [{"label":"ESE","d":24808,"z":435.8}],
    "tie_b": [{"d":6990,"z":411.1},{"d":10828,"z":411.1},{"d":14866,"z":411.1},{"d":17497,"z":411.1}],
    "seg_b": [
      {"k":"fold","d":2604,"z":411.1,"d2":24854,"z2":411.1},
      {"k":"ptr","note":"Pout Njouma","d":8882,"z":347.7,"d2":9246,"z2":305.3},
      {"k":"ptr","note":"Nkom","d":15464,"z":385,"d2":14300,"z2":395.8},
      {"k":"max","d":12719,"z":21.4,"d2":14529,"z2":21.4},
      {"k":"moy","d":17626,"z":21.4,"d2":19435,"z2":21.4},
      {"k":"min","d":22862,"z":21.4,"d2":24644,"z2":21.4}
    ],
    "tag_b": [{"label":"b","d":548,"z":24.7}],
    "txt_c": [
      {"label":"WNW","d":66,"z":624},
      {"label":"Nord-est de la localité de Nkom","d":13230,"z":539.4},
      {"label":"Profil topographique CC’","d":1645,"z":27.3},
      {"label":"ZMax","d":8596,"z":27.3},
      {"label":"ZMoy","d":12325,"z":27.3},
      {"label":"ZMin","d":16689,"z":27.3}
    ],
    "ctr_c": [
      {"label":"Antiforme","d":3527,"z":624},
      {"label":"Synforme","d":6970,"z":624},
      {"label":"Antiforme","d":10362,"z":624},
      {"label":"Synforme","d":14558,"z":624},
      {"label":"Antiforme","d":17555,"z":624}
    ],
    "end_c": [{"label":"ESE","d":19480,"z":624}],
    "tie_c": [{"d":5029,"z":586.2},{"d":8611,"z":586.2},{"d":12354,"z":586.2},{"d":16264,"z":586.2}],
    "seg_c": [
      {"k":"fold","d":1572,"z":586.2,"d2":19028,"z2":586.2},
      {"k":"ptr","note":"Nkom","d":13107,"z":541.4,"d2":12171,"z2":558.4},
      {"k":"max","d":10175,"z":27.3,"d2":11623,"z2":27.3},
      {"k":"moy","d":14101,"z":27.3,"d2":15548,"z2":27.3},
      {"k":"min","d":18289,"z":27.3,"d2":19715,"z2":27.3}
    ],
    "tag_c": [{"label":"c","d":439,"z":31.7}]
  },
  "vconcat": [
    {
      "width": 912, "height": 428,
      "layer": [
        {"data":{"name":"prof_a"},"transform":[{"filter":"datum.s==='max'"}],"mark":{"type":"area","interpolate":"monotone","color":"#4b4b4b"},
         "encoding":{"x":{"field":"d","type":"quantitative","scale":{"domain":[0,24000]},"axis":{"title":"Distance (m)","values":[0,4800,9600,14400,19200,24000]}},
                     "y":{"field":"z","type":"quantitative","scale":{"domain":[0,306]},"axis":{"title":"Elévation (m)","values":[0,46,92,138,184,230,276]}},"y2":{"datum":2}}},
        {"data":{"name":"prof_a"},"transform":[{"filter":"datum.s==='min'"}],"mark":{"type":"area","interpolate":"monotone","color":"white"},
         "encoding":{"x":{"field":"d","type":"quantitative","scale":{"domain":[0,24000]}},"y":{"field":"z","type":"quantitative","scale":{"domain":[0,306]}},"y2":{"datum":2}}},
        {"data":{"name":"prof_a"},"transform":[{"filter":"datum.s==='max'"}],"mark":{"type":"line","interpolate":"monotone","color":"#ffff00","strokeWidth":2},
         "encoding":{"x":{"field":"d","type":"quantitative","scale":{"domain":[0,24000]}},"y":{"field":"z","type":"quantitative","scale":{"domain":[0,306]}}}},
        {"data":{"name":"prof_a"},"transform":[{"filter":"datum.s==='min'"}],"mark":{"type":"line","interpolate":"monotone","color":"#0a8a1e","strokeWidth":1.8},
         "encoding":{"x":{"field":"d","type":"quantitative","scale":{"domain":[0,24000]}},"y":{"field":"z","type":"quantitative","scale":{"domain":[0,306]}}}},
        {"data":{"name":"prof_a"},"transform":[{"filter":"datum.s==='moy'"}],"mark":{"type":"line","interpolate":"monotone","color":"#ff0000","strokeWidth":1.8},
         "encoding":{"x":{"field":"d","type":"quantitative","scale":{"domain":[0,24000]}},"y":{"field":"z","type":"quantitative","scale":{"domain":[0,306]}}}},
        {"data":{"name":"seg_a"},"transform":[{"filter":"datum.k==='fold'"}],"mark":{"type":"rule","color":"#808080","strokeWidth":1.2},
         "encoding":{"x":{"field":"d","type":"quantitative","scale":{"domain":[0,24000]}},"x2":{"field":"d2"},"y":{"field":"z","type":"quantitative","scale":{"domain":[0,306]}}}},
        {"data":{"name":"seg_a"},"transform":[{"filter":"datum.k==='ptr'"}],"mark":{"type":"rule","color":"#222222","strokeWidth":1.1},
         "encoding":{"x":{"field":"d","type":"quantitative","scale":{"domain":[0,24000]}},"x2":{"field":"d2"},"y":{"field":"z","type":"quantitative","scale":{"domain":[0,306]}},"y2":{"field":"z2"}}},
        {"data":{"name":"seg_a"},"transform":[{"filter":"indexof(['max','moy','min'], datum.k) >= 0"}],"mark":{"type":"rule","strokeWidth":2},
         "encoding":{"x":{"field":"d","type":"quantitative","scale":{"domain":[0,24000]}},"x2":{"field":"d2"},"y":{"field":"z","type":"quantitative","scale":{"domain":[0,306]}},
                     "color":{"field":"k","type":"nominal","scale":{"domain":["max","moy","min"],"range":["#ffff00","#ff1a1a","#2e7347"]},"legend":null}}},
        {"data":{"name":"tie_a"},"mark":{"type":"point","shape":"M-2,-1L0,0L-2,1ZM2,-1L0,0L2,1Z","size":49,"filled":true,"color":"black","opacity":1},
         "encoding":{"x":{"field":"d","type":"quantitative","scale":{"domain":[0,24000]}},"y":{"field":"z","type":"quantitative","scale":{"domain":[0,306]}}}},
        {"data":{"name":"seg_a"},"transform":[{"filter":"datum.note==='Bienkok'"}],"mark":{"type":"point","shape":"M0,0L0.6,2L-0.6,2Z","size":36,"angle":162.5,"filled":true,"color":"#222222","opacity":1},
         "encoding":{"x":{"field":"d2","type":"quantitative","scale":{"domain":[0,24000]}},"y":{"field":"z2","type":"quantitative","scale":{"domain":[0,306]}}}},
        {"data":{"name":"rmax_a"},"mark":{"type":"rule","color":"#e00000","strokeWidth":2},
         "encoding":{"x":{"field":"d","type":"quantitative","scale":{"domain":[0,24000]}},"y":{"field":"z","type":"quantitative","scale":{"domain":[0,306]}},"y2":{"field":"z2"}}},
        {"data":{"name":"rmax_a"},"mark":{"type":"point","shape":"M0,0L1,1.6L-1,1.6Z","size":81,"filled":true,"color":"#e00000","opacity":1},
         "encoding":{"x":{"field":"d","type":"quantitative","scale":{"domain":[0,24000]}},"y":{"field":"z2","type":"quantitative","scale":{"domain":[0,306]}}}},
        {"data":{"name":"rmax_a"},"mark":{"type":"point","shape":"M0,0L1,-1.6L-1,-1.6Z","size":81,"filled":true,"color":"#e00000","opacity":1},
         "encoding":{"x":{"field":"d","type":"quantitative","scale":{"domain":[0,24000]}},"y":{"field":"z","type":"quantitative","scale":{"domain":[0,306]}}}},
        {"data":{"name":"rmax_a"},"mark":{"type":"point","shape":"M0,0.5L0.5,1.3L-0.5,1.3Z","size":81,"filled":true,"color":"black","opacity":1},
         "encoding":{"x":{"field":"d","type":"quantitative","scale":{"domain":[0,24000]}},"y":{"field":"z2","type":"quantitative","scale":{"domain":[0,306]}}}},
        {"data":{"name":"rmax_a"},"mark":{"type":"point","shape":"M0,-0.5L0.5,-1.3L-0.5,-1.3Z","size":81,"filled":true,"color":"black","opacity":1},
         "encoding":{"x":{"field":"d","type":"quantitative","scale":{"domain":[0,24000]}},"y":{"field":"z","type":"quantitative","scale":{"domain":[0,306]}}}},
        {"data":{"name":"rmax_a"},"mark":{"type":"text","align":"left","dx":4,"fontSize":19.5,"color":"#222222"},
         "encoding":{"x":{"field":"d","type":"quantitative","scale":{"domain":[0,24000]}},"y":{"field":"lz","type":"quantitative","scale":{"domain":[0,306]}},"text":{"value":"R"}}},
        {"data":{"name":"rmax_a"},"mark":{"type":"text","align":"left","dx":16,"dy":4.5,"fontSize":16,"color":"#222222"},
         "encoding":{"x":{"field":"d","type":"quantitative","scale":{"domain":[0,24000]}},"y":{"field":"lz","type":"quantitative","scale":{"domain":[0,306]}},"text":{"field":"sub"}}},
        {"data":{"name":"txt_a"},"mark":{"type":"text","align":"left","fontSize":19.5,"color":"black"},
         "encoding":{"x":{"field":"d","type":"quantitative","scale":{"domain":[0,24000]}},"y":{"field":"z","type":"quantitative","scale":{"domain":[0,306]}},"text":{"field":"label"}}},
        {"data":{"name":"ctr_a"},"mark":{"type":"text","align":"center","fontSize":19.5,"color":"black"},
         "encoding":{"x":{"field":"d","type":"quantitative","scale":{"domain":[0,24000]}},"y":{"field":"z","type":"quantitative","scale":{"domain":[0,306]}},"text":{"field":"label"}}},
        {"data":{"name":"end_a"},"mark":{"type":"text","align":"right","fontSize":19.5,"color":"black"},
         "encoding":{"x":{"field":"d","type":"quantitative","scale":{"domain":[0,24000]}},"y":{"field":"z","type":"quantitative","scale":{"domain":[0,306]}},"text":{"field":"label"}}},
        {"data":{"name":"tag_a"},"mark":{"type":"point","shape":"circle","size":1089,"filled":true,"color":"black","opacity":1},
         "encoding":{"x":{"field":"d","type":"quantitative","scale":{"domain":[0,24000]}},"y":{"field":"z","type":"quantitative","scale":{"domain":[0,306]}}}},
        {"data":{"name":"tag_a"},"mark":{"type":"text","align":"center","fontSize":28,"color":"white","dy":-1},
         "encoding":{"x":{"field":"d","type":"quantitative","scale":{"domain":[0,24000]}},"y":{"field":"z","type":"quantitative","scale":{"domain":[0,306]}},"text":{"field":"label"}}}
      ]
    },
    {
      "width": 912, "height": 442,
      "layer": [
        {"data":{"name":"prof_b"},"transform":[{"filter":"datum.s==='max'"}],"mark":{"type":"area","interpolate":"monotone","color":"#4b4b4b"},
         "encoding":{"x":{"field":"d","type":"quantitative","scale":{"domain":[0,25000]},"axis":{"title":"Distance (m)","values":[0,5000,10000,15000,20000,25000]}},
                     "y":{"field":"z","type":"quantitative","scale":{"domain":[0,449]},"axis":{"title":"Elévation (m)","values":[0,64,128,192,256,320,384]}},"y2":{"datum":3}}},
        {"data":{"name":"prof_b"},"transform":[{"filter":"datum.s==='min'"}],"mark":{"type":"area","interpolate":"monotone","color":"white"},
         "encoding":{"x":{"field":"d","type":"quantitative","scale":{"domain":[0,25000]}},"y":{"field":"z","type":"quantitative","scale":{"domain":[0,449]}},"y2":{"datum":3}}},
        {"data":{"name":"prof_b"},"transform":[{"filter":"datum.s==='max'"}],"mark":{"type":"line","interpolate":"monotone","color":"#ffff00","strokeWidth":2},
         "encoding":{"x":{"field":"d","type":"quantitative","scale":{"domain":[0,25000]}},"y":{"field":"z","type":"quantitative","scale":{"domain":[0,449]}}}},
        {"data":{"name":"prof_b"},"transform":[{"filter":"datum.s==='min'"}],"mark":{"type":"line","interpolate":"monotone","color":"#0a8a1e","strokeWidth":1.8},
         "encoding":{"x":{"field":"d","type":"quantitative","scale":{"domain":[0,25000]}},"y":{"field":"z","type":"quantitative","scale":{"domain":[0,449]}}}},
        {"data":{"name":"prof_b"},"transform":[{"filter":"datum.s==='moy'"}],"mark":{"type":"line","interpolate":"monotone","color":"#ff0000","strokeWidth":1.8},
         "encoding":{"x":{"field":"d","type":"quantitative","scale":{"domain":[0,25000]}},"y":{"field":"z","type":"quantitative","scale":{"domain":[0,449]}}}},
        {"data":{"name":"seg_b"},"transform":[{"filter":"datum.k==='fold'"}],"mark":{"type":"rule","color":"#808080","strokeWidth":1.2},
         "encoding":{"x":{"field":"d","type":"quantitative","scale":{"domain":[0,25000]}},"x2":{"field":"d2"},"y":{"field":"z","type":"quantitative","scale":{"domain":[0,449]}}}},
        {"data":{"name":"seg_b"},"transform":[{"filter":"datum.k==='ptr'"}],"mark":{"type":"rule","color":"#222222","strokeWidth":1.1},
         "encoding":{"x":{"field":"d","type":"quantitative","scale":{"domain":[0,25000]}},"x2":{"field":"d2"},"y":{"field":"z","type":"quantitative","scale":{"domain":[0,449]}},"y2":{"field":"z2"}}},
        {"data":{"name":"seg_b"},"transform":[{"filter":"indexof(['max','moy','min'], datum.k) >= 0"}],"mark":{"type":"rule","strokeWidth":2},
         "encoding":{"x":{"field":"d","type":"quantitative","scale":{"domain":[0,25000]}},"x2":{"field":"d2"},"y":{"field":"z","type":"quantitative","scale":{"domain":[0,449]}},
                     "color":{"field":"k","type":"nominal","scale":{"domain":["max","moy","min"],"range":["#ffff00","#ff1a1a","#2e7347"]},"legend":null}}},
        {"data":{"name":"tie_b"},"mark":{"type":"point","shape":"M-2,-1L0,0L-2,1ZM2,-1L0,0L2,1Z","size":49,"filled":true,"color":"black","opacity":1},
         "encoding":{"x":{"field":"d","type":"quantitative","scale":{"domain":[0,25000]}},"y":{"field":"z","type":"quantitative","scale":{"domain":[0,449]}}}},
        {"data":{"name":"seg_b"},"transform":[{"filter":"datum.note==='Pout Njouma'"}],"mark":{"type":"point","shape":"M0,0L0.6,2L-0.6,2Z","size":36,"angle":162.3,"filled":true,"color":"#222222","opacity":1},
         "encoding":{"x":{"field":"d2","type":"quantitative","scale":{"domain":[0,25000]}},"y":{"field":"z2","type":"quantitative","scale":{"domain":[0,449]}}}},
        {"data":{"name":"seg_b"},"transform":[{"filter":"datum.note==='Nkom'"}],"mark":{"type":"point","shape":"M0,0L0.6,2L-0.6,2Z","size":36,"angle":284,"filled":true,"color":"#222222","opacity":1},
         "encoding":{"x":{"field":"d2","type":"quantitative","scale":{"domain":[0,25000]}},"y":{"field":"z2","type":"quantitative","scale":{"domain":[0,449]}}}},
        {"data":{"name":"rmax_b"},"mark":{"type":"rule","color":"#e00000","strokeWidth":2},
         "encoding":{"x":{"field":"d","type":"quantitative","scale":{"domain":[0,25000]}},"y":{"field":"z","type":"quantitative","scale":{"domain":[0,449]}},"y2":{"field":"z2"}}},
        {"data":{"name":"rmax_b"},"mark":{"type":"point","shape":"M0,0L1,1.6L-1,1.6Z","size":81,"filled":true,"color":"#e00000","opacity":1},
         "encoding":{"x":{"field":"d","type":"quantitative","scale":{"domain":[0,25000]}},"y":{"field":"z2","type":"quantitative","scale":{"domain":[0,449]}}}},
        {"data":{"name":"rmax_b"},"mark":{"type":"point","shape":"M0,0L1,-1.6L-1,-1.6Z","size":81,"filled":true,"color":"#e00000","opacity":1},
         "encoding":{"x":{"field":"d","type":"quantitative","scale":{"domain":[0,25000]}},"y":{"field":"z","type":"quantitative","scale":{"domain":[0,449]}}}},
        {"data":{"name":"rmax_b"},"mark":{"type":"point","shape":"M0,0.5L0.5,1.3L-0.5,1.3Z","size":81,"filled":true,"color":"black","opacity":1},
         "encoding":{"x":{"field":"d","type":"quantitative","scale":{"domain":[0,25000]}},"y":{"field":"z2","type":"quantitative","scale":{"domain":[0,449]}}}},
        {"data":{"name":"rmax_b"},"mark":{"type":"point","shape":"M0,-0.5L0.5,-1.3L-0.5,-1.3Z","size":81,"filled":true,"color":"black","opacity":1},
         "encoding":{"x":{"field":"d","type":"quantitative","scale":{"domain":[0,25000]}},"y":{"field":"z","type":"quantitative","scale":{"domain":[0,449]}}}},
        {"data":{"name":"rmax_b"},"mark":{"type":"text","align":"left","dx":4,"fontSize":19.5,"color":"#222222"},
         "encoding":{"x":{"field":"d","type":"quantitative","scale":{"domain":[0,25000]}},"y":{"field":"lz","type":"quantitative","scale":{"domain":[0,449]}},"text":{"value":"R"}}},
        {"data":{"name":"rmax_b"},"mark":{"type":"text","align":"left","dx":16,"dy":4.5,"fontSize":16,"color":"#222222"},
         "encoding":{"x":{"field":"d","type":"quantitative","scale":{"domain":[0,25000]}},"y":{"field":"lz","type":"quantitative","scale":{"domain":[0,449]}},"text":{"field":"sub"}}},
        {"data":{"name":"txt_b"},"mark":{"type":"text","align":"left","fontSize":19.5,"color":"black"},
         "encoding":{"x":{"field":"d","type":"quantitative","scale":{"domain":[0,25000]}},"y":{"field":"z","type":"quantitative","scale":{"domain":[0,449]}},"text":{"field":"label"}}},
        {"data":{"name":"ctr_b"},"mark":{"type":"text","align":"center","fontSize":19.5,"color":"black"},
         "encoding":{"x":{"field":"d","type":"quantitative","scale":{"domain":[0,25000]}},"y":{"field":"z","type":"quantitative","scale":{"domain":[0,449]}},"text":{"field":"label"}}},
        {"data":{"name":"end_b"},"mark":{"type":"text","align":"right","fontSize":19.5,"color":"black"},
         "encoding":{"x":{"field":"d","type":"quantitative","scale":{"domain":[0,25000]}},"y":{"field":"z","type":"quantitative","scale":{"domain":[0,449]}},"text":{"field":"label"}}},
        {"data":{"name":"tag_b"},"mark":{"type":"point","shape":"circle","size":1089,"filled":true,"color":"black","opacity":1},
         "encoding":{"x":{"field":"d","type":"quantitative","scale":{"domain":[0,25000]}},"y":{"field":"z","type":"quantitative","scale":{"domain":[0,449]}}}},
        {"data":{"name":"tag_b"},"mark":{"type":"text","align":"center","fontSize":28,"color":"white","dy":-1},
         "encoding":{"x":{"field":"d","type":"quantitative","scale":{"domain":[0,25000]}},"y":{"field":"z","type":"quantitative","scale":{"domain":[0,449]}},"text":{"field":"label"}}}
      ]
    },
    {
      "width": 912, "height": 442,
      "layer": [
        {"data":{"name":"prof_c"},"transform":[{"filter":"datum.s==='max'"}],"mark":{"type":"area","interpolate":"monotone","color":"#4b4b4b"},
         "encoding":{"x":{"field":"d","type":"quantitative","scale":{"domain":[0,20000]},"axis":{"title":"Distance (m)","values":[0,4000,8000,12000,16000,20000]}},
                     "y":{"field":"z","type":"quantitative","scale":{"domain":[0,645]},"axis":{"title":"Elévation (m)","values":[0,100,200,300,400,500]}},"y2":{"datum":4}}},
        {"data":{"name":"prof_c"},"transform":[{"filter":"datum.s==='min'"}],"mark":{"type":"area","interpolate":"monotone","color":"white"},
         "encoding":{"x":{"field":"d","type":"quantitative","scale":{"domain":[0,20000]}},"y":{"field":"z","type":"quantitative","scale":{"domain":[0,645]}},"y2":{"datum":4}}},
        {"data":{"name":"prof_c"},"transform":[{"filter":"datum.s==='max'"}],"mark":{"type":"line","interpolate":"monotone","color":"#ffff00","strokeWidth":2},
         "encoding":{"x":{"field":"d","type":"quantitative","scale":{"domain":[0,20000]}},"y":{"field":"z","type":"quantitative","scale":{"domain":[0,645]}}}},
        {"data":{"name":"prof_c"},"transform":[{"filter":"datum.s==='min'"}],"mark":{"type":"line","interpolate":"monotone","color":"#0a8a1e","strokeWidth":1.8},
         "encoding":{"x":{"field":"d","type":"quantitative","scale":{"domain":[0,20000]}},"y":{"field":"z","type":"quantitative","scale":{"domain":[0,645]}}}},
        {"data":{"name":"prof_c"},"transform":[{"filter":"datum.s==='moy'"}],"mark":{"type":"line","interpolate":"monotone","color":"#ff0000","strokeWidth":1.8},
         "encoding":{"x":{"field":"d","type":"quantitative","scale":{"domain":[0,20000]}},"y":{"field":"z","type":"quantitative","scale":{"domain":[0,645]}}}},
        {"data":{"name":"seg_c"},"transform":[{"filter":"datum.k==='fold'"}],"mark":{"type":"rule","color":"#808080","strokeWidth":1.2},
         "encoding":{"x":{"field":"d","type":"quantitative","scale":{"domain":[0,20000]}},"x2":{"field":"d2"},"y":{"field":"z","type":"quantitative","scale":{"domain":[0,645]}}}},
        {"data":{"name":"seg_c"},"transform":[{"filter":"datum.k==='ptr'"}],"mark":{"type":"rule","color":"#222222","strokeWidth":1.1},
         "encoding":{"x":{"field":"d","type":"quantitative","scale":{"domain":[0,20000]}},"x2":{"field":"d2"},"y":{"field":"z","type":"quantitative","scale":{"domain":[0,645]}},"y2":{"field":"z2"}}},
        {"data":{"name":"seg_c"},"transform":[{"filter":"indexof(['max','moy','min'], datum.k) >= 0"}],"mark":{"type":"rule","strokeWidth":2},
         "encoding":{"x":{"field":"d","type":"quantitative","scale":{"domain":[0,20000]}},"x2":{"field":"d2"},"y":{"field":"z","type":"quantitative","scale":{"domain":[0,645]}},
                     "color":{"field":"k","type":"nominal","scale":{"domain":["max","moy","min"],"range":["#ffff00","#ff1a1a","#2e7347"]},"legend":null}}},
        {"data":{"name":"tie_c"},"mark":{"type":"point","shape":"M-2,-1L0,0L-2,1ZM2,-1L0,0L2,1Z","size":49,"filled":true,"color":"black","opacity":1},
         "encoding":{"x":{"field":"d","type":"quantitative","scale":{"domain":[0,20000]}},"y":{"field":"z","type":"quantitative","scale":{"domain":[0,645]}}}},
        {"data":{"name":"seg_c"},"transform":[{"filter":"datum.note==='Nkom'"}],"mark":{"type":"point","shape":"M0,0L0.6,2L-0.6,2Z","size":36,"angle":285.3,"filled":true,"color":"#222222","opacity":1},
         "encoding":{"x":{"field":"d2","type":"quantitative","scale":{"domain":[0,20000]}},"y":{"field":"z2","type":"quantitative","scale":{"domain":[0,645]}}}},
        {"data":{"name":"rmax_c"},"mark":{"type":"rule","color":"#e00000","strokeWidth":2},
         "encoding":{"x":{"field":"d","type":"quantitative","scale":{"domain":[0,20000]}},"y":{"field":"z","type":"quantitative","scale":{"domain":[0,645]}},"y2":{"field":"z2"}}},
        {"data":{"name":"rmax_c"},"mark":{"type":"point","shape":"M0,0L1,1.6L-1,1.6Z","size":81,"filled":true,"color":"#e00000","opacity":1},
         "encoding":{"x":{"field":"d","type":"quantitative","scale":{"domain":[0,20000]}},"y":{"field":"z2","type":"quantitative","scale":{"domain":[0,645]}}}},
        {"data":{"name":"rmax_c"},"mark":{"type":"point","shape":"M0,0L1,-1.6L-1,-1.6Z","size":81,"filled":true,"color":"#e00000","opacity":1},
         "encoding":{"x":{"field":"d","type":"quantitative","scale":{"domain":[0,20000]}},"y":{"field":"z","type":"quantitative","scale":{"domain":[0,645]}}}},
        {"data":{"name":"rmax_c"},"mark":{"type":"point","shape":"M0,0.5L0.5,1.3L-0.5,1.3Z","size":81,"filled":true,"color":"black","opacity":1},
         "encoding":{"x":{"field":"d","type":"quantitative","scale":{"domain":[0,20000]}},"y":{"field":"z2","type":"quantitative","scale":{"domain":[0,645]}}}},
        {"data":{"name":"rmax_c"},"mark":{"type":"point","shape":"M0,-0.5L0.5,-1.3L-0.5,-1.3Z","size":81,"filled":true,"color":"black","opacity":1},
         "encoding":{"x":{"field":"d","type":"quantitative","scale":{"domain":[0,20000]}},"y":{"field":"z","type":"quantitative","scale":{"domain":[0,645]}}}},
        {"data":{"name":"rmax_c"},"mark":{"type":"text","align":"left","dx":4,"fontSize":19.5,"color":"#222222"},
         "encoding":{"x":{"field":"d","type":"quantitative","scale":{"domain":[0,20000]}},"y":{"field":"lz","type":"quantitative","scale":{"domain":[0,645]}},"text":{"value":"R"}}},
        {"data":{"name":"rmax_c"},"mark":{"type":"text","align":"left","dx":16,"dy":4.5,"fontSize":16,"color":"#222222"},
         "encoding":{"x":{"field":"d","type":"quantitative","scale":{"domain":[0,20000]}},"y":{"field":"lz","type":"quantitative","scale":{"domain":[0,645]}},"text":{"field":"sub"}}},
        {"data":{"name":"txt_c"},"mark":{"type":"text","align":"left","fontSize":19.5,"color":"black"},
         "encoding":{"x":{"field":"d","type":"quantitative","scale":{"domain":[0,20000]}},"y":{"field":"z","type":"quantitative","scale":{"domain":[0,645]}},"text":{"field":"label"}}},
        {"data":{"name":"ctr_c"},"mark":{"type":"text","align":"center","fontSize":19.5,"color":"black"},
         "encoding":{"x":{"field":"d","type":"quantitative","scale":{"domain":[0,20000]}},"y":{"field":"z","type":"quantitative","scale":{"domain":[0,645]}},"text":{"field":"label"}}},
        {"data":{"name":"end_c"},"mark":{"type":"text","align":"right","fontSize":19.5,"color":"black"},
         "encoding":{"x":{"field":"d","type":"quantitative","scale":{"domain":[0,20000]}},"y":{"field":"z","type":"quantitative","scale":{"domain":[0,645]}},"text":{"field":"label"}}},
        {"data":{"name":"tag_c"},"mark":{"type":"point","shape":"circle","size":1089,"filled":true,"color":"black","opacity":1},
         "encoding":{"x":{"field":"d","type":"quantitative","scale":{"domain":[0,20000]}},"y":{"field":"z","type":"quantitative","scale":{"domain":[0,645]}}}},
        {"data":{"name":"tag_c"},"mark":{"type":"text","align":"center","fontSize":28,"color":"white","dy":-1},
         "encoding":{"x":{"field":"d","type":"quantitative","scale":{"domain":[0,20000]}},"y":{"field":"z","type":"quantitative","scale":{"domain":[0,645]}},"text":{"field":"label"}}}
      ]
    }
  ],
  "config": {
    "font": "Liberation Serif",
    "view": {"stroke": "black", "strokeWidth": 2.5},
    "text": {"font": "Liberation Serif", "baseline": "middle"},
    "axis": {
      "domainColor": "black", "domainWidth": 3,
      "tickColor": "black", "tickWidth": 2, "tickSize": 7,
      "labelFont": "Liberation Serif", "labelFontSize": 19.5, "labelColor": "black", "labelPadding": 3,
      "labelFlush": false, "labelOverlap": false, "format": "d",
      "titleFont": "Liberation Serif", "titleFontSize": 19.5, "titleFontWeight": "normal", "titleColor": "black",
      "grid": false, "zindex": 1
    },
    "axisX": {"titlePadding": 4},
    "axisY": {"titlePadding": 6}
  }
}
